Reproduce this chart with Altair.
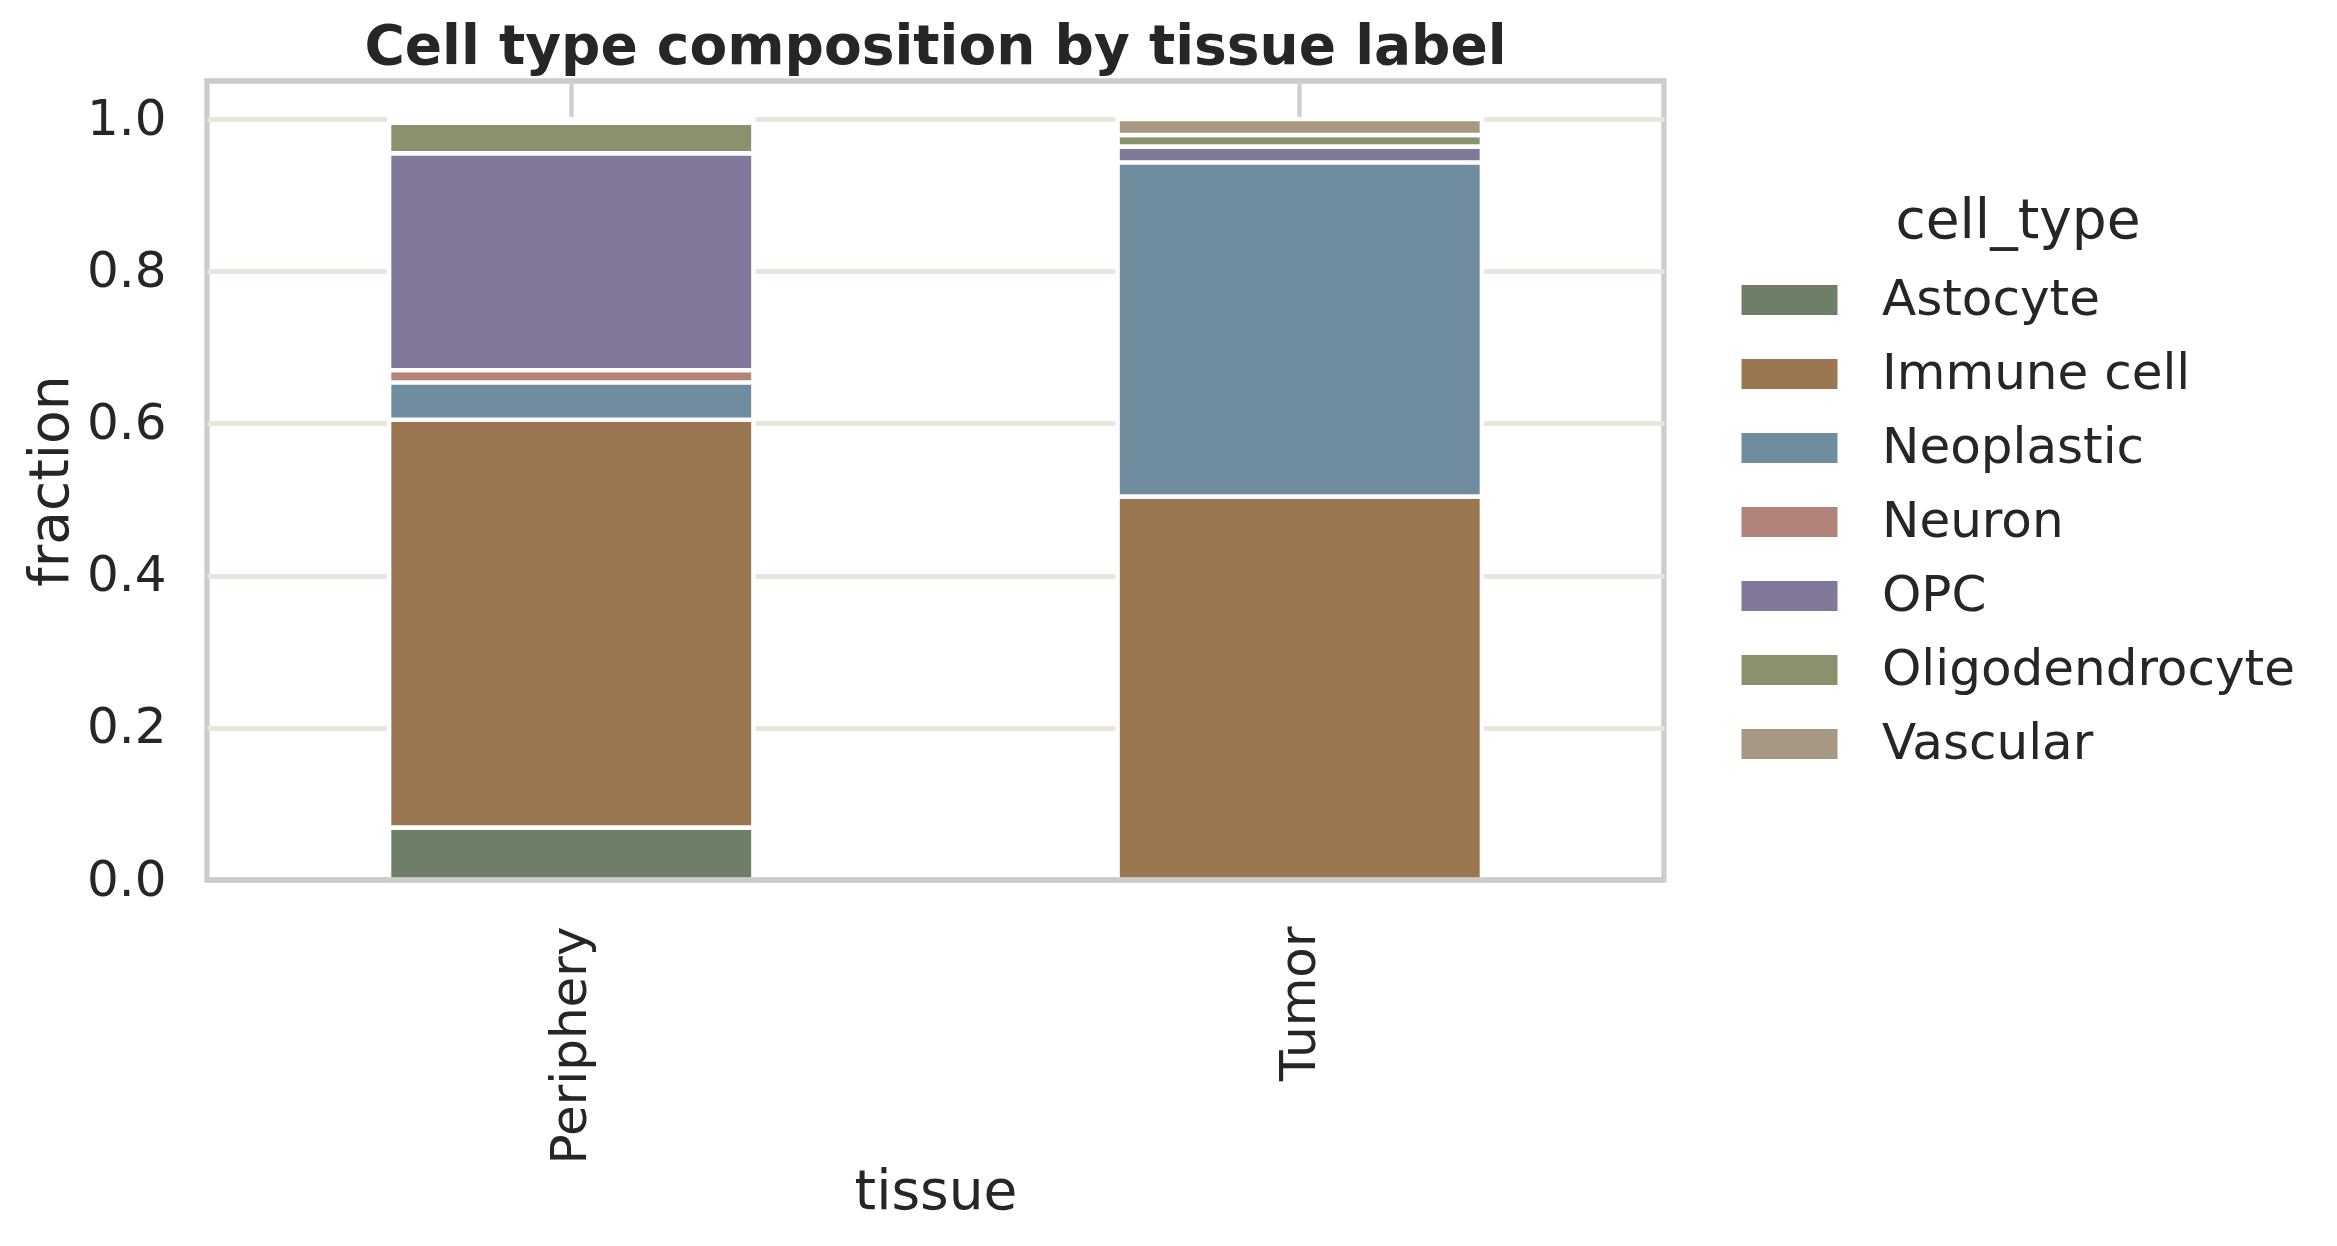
import altair as alt
import pandas as pd

tissues = ["Periphery", "Tumor"]
cell_types = ["Astocyte", "Immune cell", "Neoplastic", "Neuron", "OPC", "Oligodendrocyte", "Vascular"]
colors = ["#6F7F67", "#9A7651", "#6F8D9E", "#B2837A", "#827899", "#89926C", "#A69882"]
periphery_frac = [0.069, 0.536, 0.049, 0.016, 0.285, 0.040, 0.005]
tumor_frac = [0.0, 0.504, 0.439, 0.0, 0.021, 0.015, 0.021]

rows = []
for tissue, fracs in zip(tissues, [periphery_frac, tumor_frac]):
    for i, (ct, f) in enumerate(zip(cell_types, fracs)):
        if f > 0:
            rows.append({"tissue": tissue, "cell_type": ct, "fraction": f, "order": i})
df = pd.DataFrame(rows).sort_values(["order", "tissue"]).reset_index(drop=True)

FONT = "DejaVu Sans"
TXT = "#262626"
W, H = 1457, 799

bars = alt.Chart(df).mark_bar(stroke="white", strokeWidth=4.4).encode(
    x=alt.X("tissue:N", sort=tissues,
            scale=alt.Scale(paddingInner=0.5, paddingOuter=0.25),
            axis=alt.Axis(title="tissue", labelAngle=270, labelAlign="right",
                          labelBaseline="middle", labelPadding=46, ticks=False,
                          tickSize=0, domain=False, grid=True, gridColor="#D0D0D0",
                          gridWidth=4.5, labelFontSize=50, titleFontSize=55,
                          labelLimit=0, titleLimit=0,
                          titleX=W / 2, titleY=328, titleBaseline="alphabetic",
                          titleAlign="center")),
    y=alt.Y("fraction:Q", stack="zero",
            scale=alt.Scale(domain=[0, 1.05], nice=False, zero=True),
            axis=alt.Axis(title="fraction", values=[0, 0.2, 0.4, 0.6, 0.8, 1.0],
                          format=".1f", ticks=False, tickSize=0, domain=False,
                          grid=True, gridColor="#EAE6DD", gridWidth=5,
                          labelPadding=41, labelFontSize=50, titleFontSize=55,
                          labelLimit=0, titleLimit=0,
                          titleAngle=270, titleX=-140, titleY=H / 2,
                          titleBaseline="alphabetic", titleAlign="center")),
    color=alt.Color("cell_type:N", sort=cell_types,
                    scale=alt.Scale(domain=cell_types, range=colors),
                    legend=alt.Legend(
                        title="cell_type", orient="none", legendX=1534, legendY=114,
                        titleFontSize=55, titleFontWeight="normal", titleAnchor="middle",
                        titleAlign="center", titlePadding=1.5, titleLimit=0,
                        labelFontSize=50, labelOffset=44, labelColor=TXT, titleColor=TXT,
                        labelLimit=0,
                        symbolType="M-1.0104,-0.323L1.0104,-0.323L1.0104,0.323L-1.0104,0.323Z",
                        symbolSize=9216, symbolStrokeColor="white", symbolStrokeWidth=1,
                        symbolOpacity=1, rowPadding=-30, padding=0)),
    order=alt.Order("order:Q"),
)

spine = alt.Chart(pd.DataFrame({"base": [0]})).mark_rule(
    color="#CCCCCC", strokeWidth=5.3
).encode(y=alt.datum(0))

chart = alt.layer(bars, spine).properties(
    width=W, height=H,
    title=alt.TitleParams("Cell type composition by tissue label", fontSize=55,
                          fontWeight="bold", font=FONT, color=TXT, anchor="middle",
                          frame="group", baseline="alphabetic", offset=16, dy=53.5),
    autosize=alt.AutoSizeParams(type="none"),
    padding={"left": 199, "top": 73, "right": 660, "bottom": 355},
).configure(
    font=FONT, background="white"
).configure_view(
    stroke="#CCCCCC", strokeWidth=5.3, fill="white"
).configure_axis(
    labelFont=FONT, titleFont=FONT, labelColor=TXT, titleColor=TXT,
    titleFontWeight="normal"
).configure_legend(
    labelFont=FONT, titleFont=FONT
)

chart.save("out.html", embed_options={"renderer": "svg", "actions": False})
